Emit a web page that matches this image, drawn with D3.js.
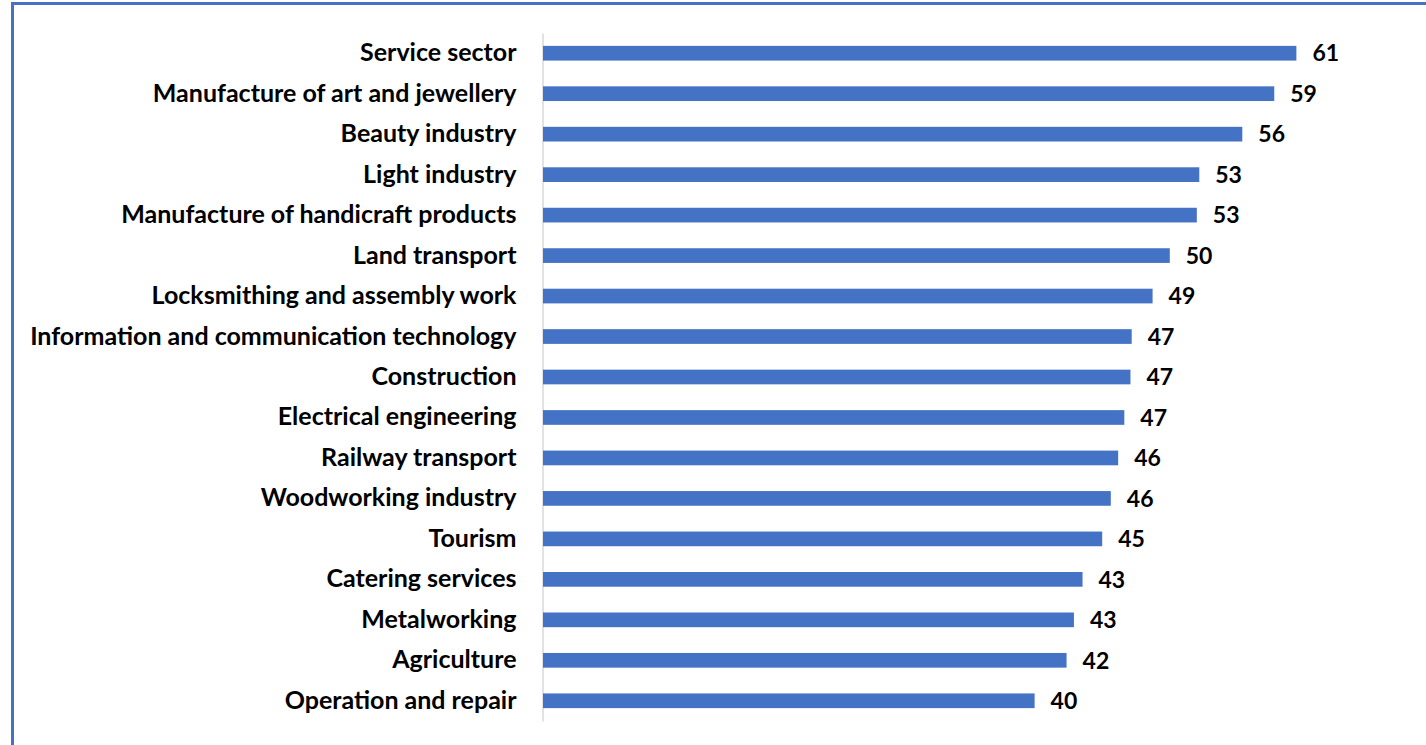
<!DOCTYPE html>
<html>
<head>
<meta charset="utf-8">
<script src="https://cdn.jsdelivr.net/npm/d3@7"></script>
<style>
  body { margin: 0; background: #fff; }
  svg { display: block; }
  .cat text { font-family: Lato, "Open Sans", sans-serif; font-weight: 700; font-size: 25px; fill: #000; }
  .val { font-family: Lato, "Open Sans", sans-serif; font-weight: 700; font-size: 23px; fill: #000; }
</style>
</head>
<body>
<svg id="chart"></svg>
<script>
// categories, top to bottom
var categories = [
  "Service sector",
  "Manufacture of art and jewellery",
  "Beauty industry",
  "Light industry",
  "Manufacture of handicraft products",
  "Land transport",
  "Locksmithing and assembly work",
  "Information and communication technology",
  "Construction",
  "Electrical engineering",
  "Railway transport",
  "Woodworking industry",
  "Tourism",
  "Catering services",
  "Metalworking",
  "Agriculture",
  "Operation and repair"
];
// bar lengths
var values = [61.3, 59.5, 56.9, 53.4, 53.2, 51.0, 49.6, 47.9, 47.8, 47.3, 46.8, 46.2, 45.5, 43.9, 43.2, 42.6, 40.0];
// printed data labels
var labels = ["61", "59", "56", "53", "53", "50", "49", "47", "47", "47", "46", "46", "45", "43", "43", "42", "40"];

var width = 1426, height = 745;
var margin = {top: 33, left: 543, bottom: 24};

var svg = d3.select("#chart").attr("width", width).attr("height", height);

// frame
svg.append("rect")
  .attr("x", 12.5).attr("y", 3.5)
  .attr("width", width + 20).attr("height", height + 20)
  .attr("fill", "none")
  .attr("stroke", "#4472C4")
  .attr("stroke-width", 3);

var x = d3.scaleLinear().domain([0, 70]).range([margin.left, margin.left + 70 * 12.29]);
var y = d3.scaleBand()
  .domain(categories)
  .range([margin.top, height - margin.bottom])
  .paddingInner(0.637)
  .paddingOuter(0.318);

var rows = categories.map(function(c, i) { return {cat: c, v: values[i], label: labels[i]}; });

// category axis
var yAxis = d3.axisLeft(y).tickSize(0).tickPadding(26);
var gy = svg.append("g")
  .attr("class", "cat")
  .attr("transform", "translate(" + (margin.left - 0.5) + ",0)")
  .call(yAxis);
gy.select(".domain").attr("stroke", "#d9d9d9").attr("stroke-width", 1.5);

svg.selectAll(".bar").data(rows).enter().append("rect")
  .attr("class", "bar")
  .attr("x", x(0))
  .attr("y", function(d) { return y(d.cat); })
  .attr("width", function(d) { return x(d.v) - x(0); })
  .attr("height", y.bandwidth())
  .attr("fill", "#4472C4");

svg.selectAll(".val").data(rows).enter().append("text")
  .attr("class", "val")
  .attr("x", function(d) { return x(d.v) + 16; })
  .attr("y", function(d) { return y(d.cat) + y.bandwidth() / 2; })
  .attr("dy", "0.36em")
  .text(function(d) { return d.label; });
</script>
</body>
</html>
